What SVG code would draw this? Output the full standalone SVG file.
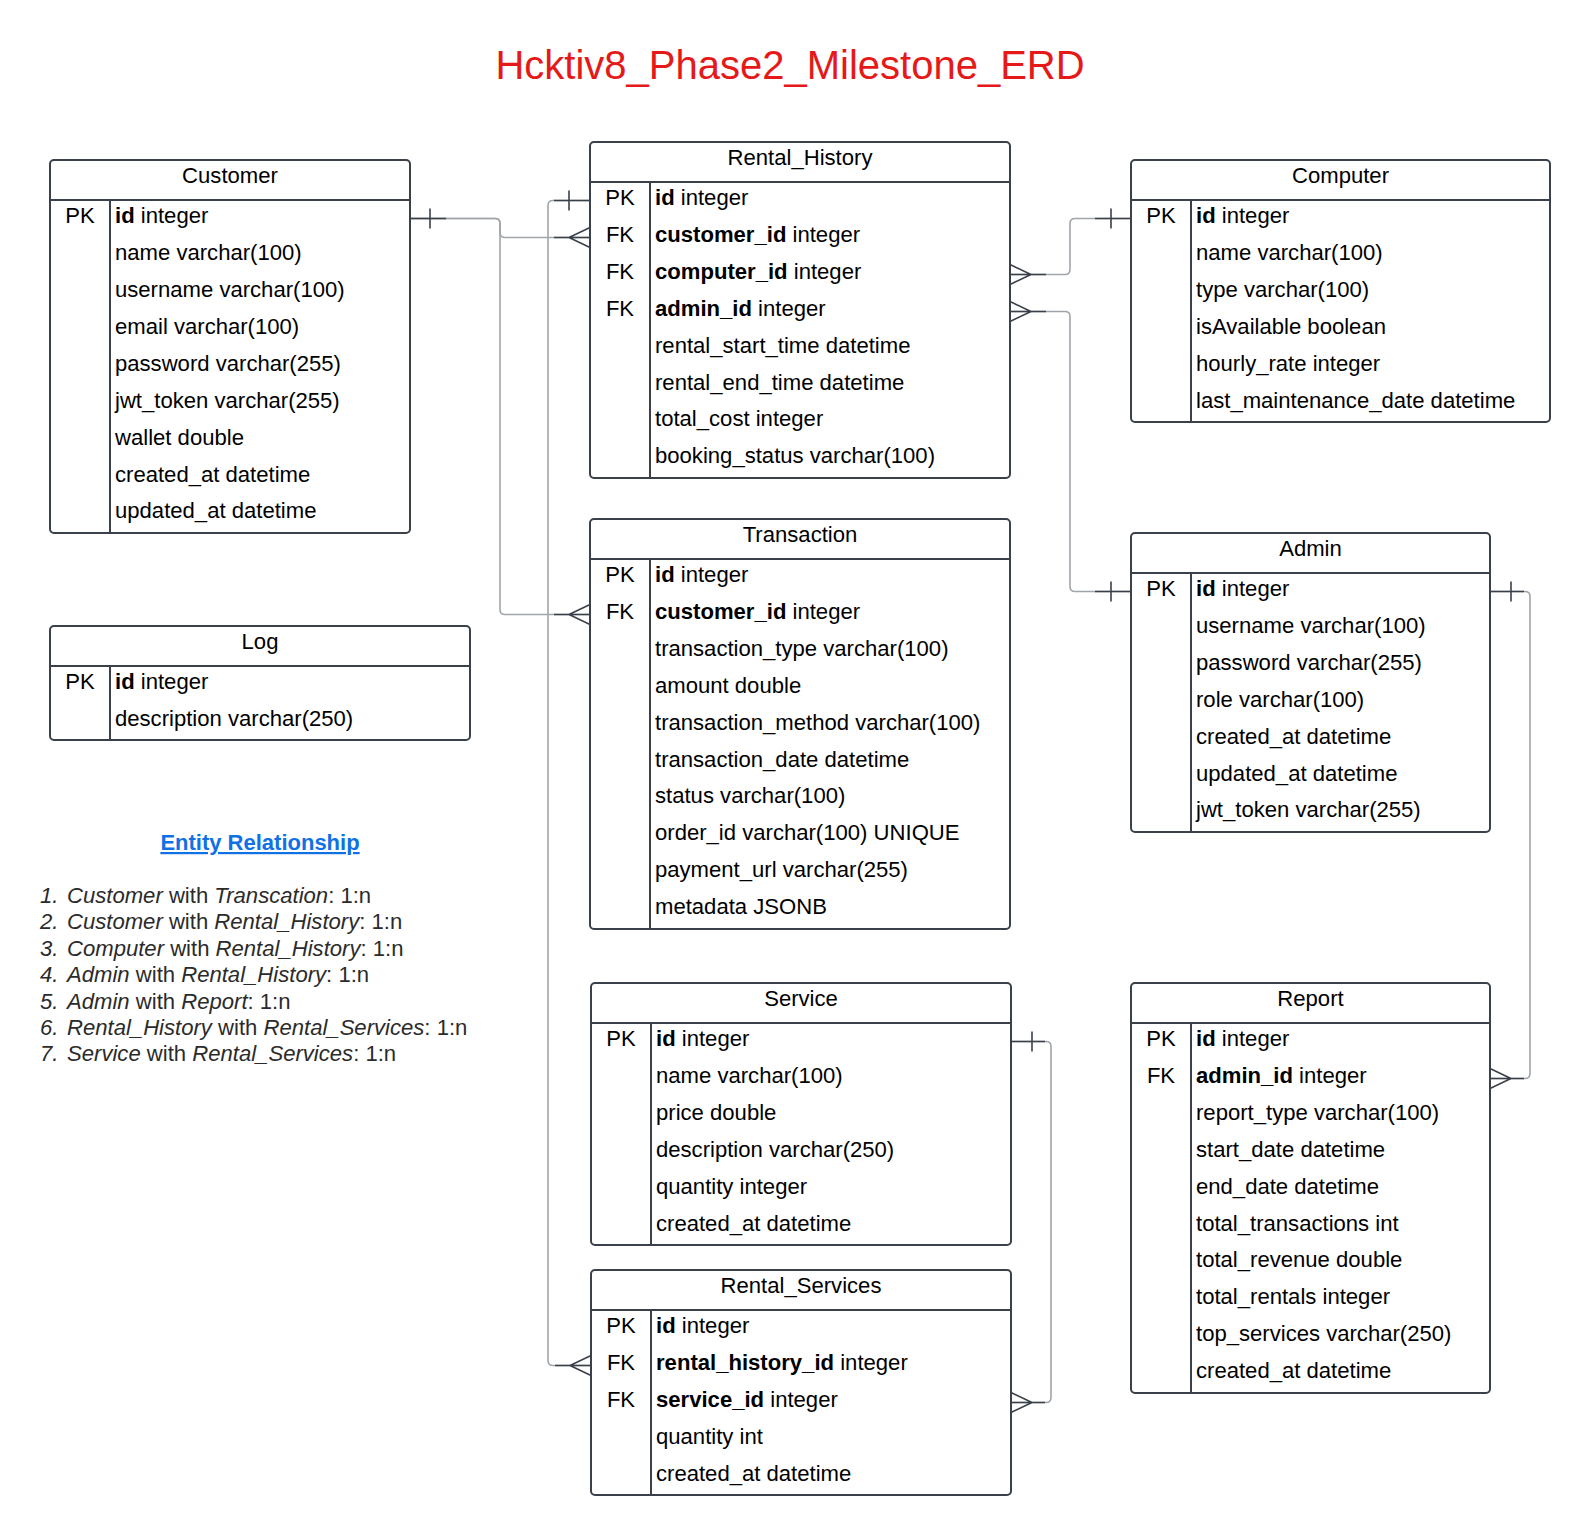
<svg xmlns="http://www.w3.org/2000/svg" width="1590" height="1535" viewBox="0 0 1590 1535">
<style>
.bg{fill:#ffffff}
.box{fill:#ffffff;stroke:#3a414a;stroke-width:2}
.sep{stroke:#3a414a;stroke-width:2}
.t{font-family:"Liberation Sans",Arial,sans-serif;font-size:22.1px;fill:#000000}
.h{text-anchor:middle}
.k{text-anchor:middle}
.b{font-weight:bold}
.c{fill:none;stroke:#a0a5aa;stroke-width:1.6}
.d{fill:none;stroke:#3a414a;stroke-width:1.6}
.title{font-family:"Liberation Sans",Arial,sans-serif;font-size:40px;fill:#e61919;text-anchor:middle}
.er{font-family:"Liberation Sans",Arial,sans-serif;font-size:22px;font-weight:bold;fill:#1071e5;text-anchor:middle;text-decoration:underline}
.li{font-family:"Liberation Sans",Arial,sans-serif;font-size:22.1px;fill:#2b2b2b}
.i{font-style:italic}
</style>
<rect class="bg" x="0" y="0" width="1590" height="1535"/>
<text class="title" x="790" y="79">Hcktiv8_Phase2_Milestone_ERD</text>

<g id="connectors">
  <path class="c" d="M410,218.5 H495 Q500,218.5 500,223.5 V232.5 Q500,237.5 505,237.5 H590"/>
  <path class="c" d="M410,218.5 H495 Q500,218.5 500,223.5 V609.5 Q500,614.5 505,614.5 H590"/>
  <path class="c" d="M1131,218.5 H1075 Q1070,218.5 1070,223.5 V269.5 Q1070,274.5 1065,274.5 H1010"/>
  <path class="c" d="M1131,591.5 H1075 Q1070,591.5 1070,586.5 V316.5 Q1070,311.5 1065,311.5 H1010"/>
  <path class="c" d="M1490,591.5 H1525 Q1530,591.5 1530,596.5 V1073.5 Q1530,1078.5 1525,1078.5 H1490"/>
  <path class="c" d="M1011,1041.5 H1046 Q1051,1041.5 1051,1046.5 V1397.5 Q1051,1402.5 1046,1402.5 H1011"/>
  <path class="c" d="M590,200.5 H553 Q548,200.5 548,205.5 V1360.5 Q548,1365.5 553,1365.5 H591"/>
  <path class="d" d="M410,218.5 H446 M430,208.5 V228.5"/>
  <path class="d" d="M1131,218.5 H1095 M1111,208.5 V228.5"/>
  <path class="d" d="M1131,591.5 H1095 M1111,581.5 V601.5"/>
  <path class="d" d="M1490,591.5 H1524 M1511,581.5 V601.5"/>
  <path class="d" d="M1011,1041.5 H1045 M1032,1031.5 V1051.5"/>
  <path class="d" d="M590,200.5 H554 M569,190.5 V210.5"/>
  <path class="d" d="M590,237.5 H554 M590,227.5 L569,237.5 L590,247.5"/>
  <path class="d" d="M590,614.5 H554 M590,604.5 L569,614.5 L590,624.5"/>
  <path class="d" d="M1010,274.5 H1046 M1010,264.5 L1031,274.5 L1010,284.5"/>
  <path class="d" d="M1010,311.5 H1046 M1010,301.5 L1031,311.5 L1010,321.5"/>
  <path class="d" d="M1490,1078.5 H1524 M1490,1068.5 L1511,1078.5 L1490,1088.5"/>
  <path class="d" d="M1011,1402.5 H1045 M1011,1392.5 L1032,1402.5 L1011,1412.5"/>
  <path class="d" d="M591,1365.5 H555 M591,1355.5 L570,1365.5 L591,1375.5"/>
</g>

<g id="customer" transform="translate(50,160)">
  <rect class="box" x="0" y="0" width="360" height="373" rx="4"/>
  <line class="sep" x1="0" y1="40" x2="360" y2="40"/>
  <line class="sep" x1="60" y1="40" x2="60" y2="373"/>
  <g transform="translate(0,-1)">
  <text class="t h" x="180" y="24">Customer</text>
  <text class="t k" x="30" y="64">PK</text>
  <text class="t" x="65" y="64"><tspan class="b">id</tspan> integer</text>
  <text class="t" x="65" y="101">name varchar(100)</text>
  <text class="t" x="65" y="138">username varchar(100)</text>
  <text class="t" x="65" y="175">email varchar(100)</text>
  <text class="t" x="65" y="212">password varchar(255)</text>
  <text class="t" x="65" y="249">jwt_token varchar(255)</text>
  <text class="t" x="65" y="286">wallet double</text>
  <text class="t" x="65" y="323">created_at datetime</text>
  <text class="t" x="65" y="359">updated_at datetime</text>
  </g>
</g>

<g id="rental_history" transform="translate(590,142)">
  <rect class="box" x="0" y="0" width="420" height="336" rx="4"/>
  <line class="sep" x1="0" y1="40" x2="420" y2="40"/>
  <line class="sep" x1="60" y1="40" x2="60" y2="336"/>
  <g transform="translate(0,-1)">
  <text class="t h" x="210" y="24">Rental_History</text>
  <text class="t k" x="30" y="64">PK</text>
  <text class="t" x="65" y="64"><tspan class="b">id</tspan> integer</text>
  <text class="t k" x="30" y="101">FK</text>
  <text class="t" x="65" y="101"><tspan class="b">customer_id</tspan> integer</text>
  <text class="t k" x="30" y="138">FK</text>
  <text class="t" x="65" y="138"><tspan class="b">computer_id</tspan> integer</text>
  <text class="t k" x="30" y="175">FK</text>
  <text class="t" x="65" y="175"><tspan class="b">admin_id</tspan> integer</text>
  <text class="t" x="65" y="212">rental_start_time datetime</text>
  <text class="t" x="65" y="249">rental_end_time datetime</text>
  <text class="t" x="65" y="285">total_cost integer</text>
  <text class="t" x="65" y="322">booking_status varchar(100)</text>
  </g>
</g>

<g id="computer" transform="translate(1131,160)">
  <rect class="box" x="0" y="0" width="419" height="262" rx="4"/>
  <line class="sep" x1="0" y1="40" x2="419" y2="40"/>
  <line class="sep" x1="60" y1="40" x2="60" y2="262"/>
  <g transform="translate(0,-1)">
  <text class="t h" x="209.5" y="24">Computer</text>
  <text class="t k" x="30" y="64">PK</text>
  <text class="t" x="65" y="64"><tspan class="b">id</tspan> integer</text>
  <text class="t" x="65" y="101">name varchar(100)</text>
  <text class="t" x="65" y="138">type varchar(100)</text>
  <text class="t" x="65" y="175">isAvailable boolean</text>
  <text class="t" x="65" y="212">hourly_rate integer</text>
  <text class="t" x="65" y="249">last_maintenance_date datetime</text>
  </g>
</g>

<g id="transaction" transform="translate(590,519)">
  <rect class="box" x="0" y="0" width="420" height="410" rx="4"/>
  <line class="sep" x1="0" y1="40" x2="420" y2="40"/>
  <line class="sep" x1="60" y1="40" x2="60" y2="410"/>
  <g transform="translate(0,-1)">
  <text class="t h" x="210" y="24">Transaction</text>
  <text class="t k" x="30" y="64">PK</text>
  <text class="t" x="65" y="64"><tspan class="b">id</tspan> integer</text>
  <text class="t k" x="30" y="101">FK</text>
  <text class="t" x="65" y="101"><tspan class="b">customer_id</tspan> integer</text>
  <text class="t" x="65" y="138">transaction_type varchar(100)</text>
  <text class="t" x="65" y="175">amount double</text>
  <text class="t" x="65" y="212">transaction_method varchar(100)</text>
  <text class="t" x="65" y="249">transaction_date datetime</text>
  <text class="t" x="65" y="285">status varchar(100)</text>
  <text class="t" x="65" y="322">order_id varchar(100) UNIQUE</text>
  <text class="t" x="65" y="359">payment_url varchar(255)</text>
  <text class="t" x="65" y="396">metadata JSONB</text>
  </g>
</g>

<g id="admin" transform="translate(1131,533)">
  <rect class="box" x="0" y="0" width="359" height="299" rx="4"/>
  <line class="sep" x1="0" y1="40" x2="359" y2="40"/>
  <line class="sep" x1="60" y1="40" x2="60" y2="299"/>
  <g transform="translate(0,-1)">
  <text class="t h" x="179.5" y="24">Admin</text>
  <text class="t k" x="30" y="64">PK</text>
  <text class="t" x="65" y="64"><tspan class="b">id</tspan> integer</text>
  <text class="t" x="65" y="101">username varchar(100)</text>
  <text class="t" x="65" y="138">password varchar(255)</text>
  <text class="t" x="65" y="175">role varchar(100)</text>
  <text class="t" x="65" y="212">created_at datetime</text>
  <text class="t" x="65" y="249">updated_at datetime</text>
  <text class="t" x="65" y="285">jwt_token varchar(255)</text>
  </g>
</g>

<g id="log" transform="translate(50,626)">
  <rect class="box" x="0" y="0" width="420" height="114" rx="4"/>
  <line class="sep" x1="0" y1="40" x2="420" y2="40"/>
  <line class="sep" x1="60" y1="40" x2="60" y2="114"/>
  <g transform="translate(0,-1)">
  <text class="t h" x="210" y="24">Log</text>
  <text class="t k" x="30" y="64">PK</text>
  <text class="t" x="65" y="64"><tspan class="b">id</tspan> integer</text>
  <text class="t" x="65" y="101">description varchar(250)</text>
  </g>
</g>

<g id="service" transform="translate(591,983)">
  <rect class="box" x="0" y="0" width="420" height="262" rx="4"/>
  <line class="sep" x1="0" y1="40" x2="420" y2="40"/>
  <line class="sep" x1="60" y1="40" x2="60" y2="262"/>
  <g transform="translate(0,-1)">
  <text class="t h" x="210" y="24">Service</text>
  <text class="t k" x="30" y="64">PK</text>
  <text class="t" x="65" y="64"><tspan class="b">id</tspan> integer</text>
  <text class="t" x="65" y="101">name varchar(100)</text>
  <text class="t" x="65" y="138">price double</text>
  <text class="t" x="65" y="175">description varchar(250)</text>
  <text class="t" x="65" y="212">quantity integer</text>
  <text class="t" x="65" y="249">created_at datetime</text>
  </g>
</g>

<g id="rental_services" transform="translate(591,1270)">
  <rect class="box" x="0" y="0" width="420" height="225" rx="4"/>
  <line class="sep" x1="0" y1="40" x2="420" y2="40"/>
  <line class="sep" x1="60" y1="40" x2="60" y2="225"/>
  <g transform="translate(0,-1)">
  <text class="t h" x="210" y="24">Rental_Services</text>
  <text class="t k" x="30" y="64">PK</text>
  <text class="t" x="65" y="64"><tspan class="b">id</tspan> integer</text>
  <text class="t k" x="30" y="101">FK</text>
  <text class="t" x="65" y="101"><tspan class="b">rental_history_id</tspan> integer</text>
  <text class="t k" x="30" y="138">FK</text>
  <text class="t" x="65" y="138"><tspan class="b">service_id</tspan> integer</text>
  <text class="t" x="65" y="175">quantity int</text>
  <text class="t" x="65" y="212">created_at datetime</text>
  </g>
</g>

<g id="report" transform="translate(1131,983)">
  <rect class="box" x="0" y="0" width="359" height="410" rx="4"/>
  <line class="sep" x1="0" y1="40" x2="359" y2="40"/>
  <line class="sep" x1="60" y1="40" x2="60" y2="410"/>
  <g transform="translate(0,-1)">
  <text class="t h" x="179.5" y="24">Report</text>
  <text class="t k" x="30" y="64">PK</text>
  <text class="t" x="65" y="64"><tspan class="b">id</tspan> integer</text>
  <text class="t k" x="30" y="101">FK</text>
  <text class="t" x="65" y="101"><tspan class="b">admin_id</tspan> integer</text>
  <text class="t" x="65" y="138">report_type varchar(100)</text>
  <text class="t" x="65" y="175">start_date datetime</text>
  <text class="t" x="65" y="212">end_date datetime</text>
  <text class="t" x="65" y="249">total_transactions int</text>
  <text class="t" x="65" y="285">total_revenue double</text>
  <text class="t" x="65" y="322">total_rentals integer</text>
  <text class="t" x="65" y="359">top_services varchar(250)</text>
  <text class="t" x="65" y="396">created_at datetime</text>
  </g>
</g>

<g id="entity_relationship_notes">
  <text class="er" x="260" y="850">Entity Relationship</text>
  <text class="li i" x="40" y="903">1.</text>
  <text class="li" x="67" y="903"><tspan class="i">Customer</tspan> with <tspan class="i">Transcation</tspan>: 1:n</text>
  <text class="li i" x="40" y="929.4">2.</text>
  <text class="li" x="67" y="929.4"><tspan class="i">Customer</tspan> with <tspan class="i">Rental_History</tspan>: 1:n</text>
  <text class="li i" x="40" y="955.8">3.</text>
  <text class="li" x="67" y="955.8"><tspan class="i">Computer</tspan> with <tspan class="i">Rental_History</tspan>: 1:n</text>
  <text class="li i" x="40" y="982.2">4.</text>
  <text class="li" x="67" y="982.2"><tspan class="i">Admin</tspan> with <tspan class="i">Rental_History</tspan>: 1:n</text>
  <text class="li i" x="40" y="1008.6">5.</text>
  <text class="li" x="67" y="1008.6"><tspan class="i">Admin</tspan> with <tspan class="i">Report</tspan>: 1:n</text>
  <text class="li i" x="40" y="1035">6.</text>
  <text class="li" x="67" y="1035"><tspan class="i">Rental_History</tspan> with <tspan class="i">Rental_Services</tspan>: 1:n</text>
  <text class="li i" x="40" y="1061.4">7.</text>
  <text class="li" x="67" y="1061.4"><tspan class="i">Service</tspan> with <tspan class="i">Rental_Services</tspan>: 1:n</text>
</g>
</svg>
